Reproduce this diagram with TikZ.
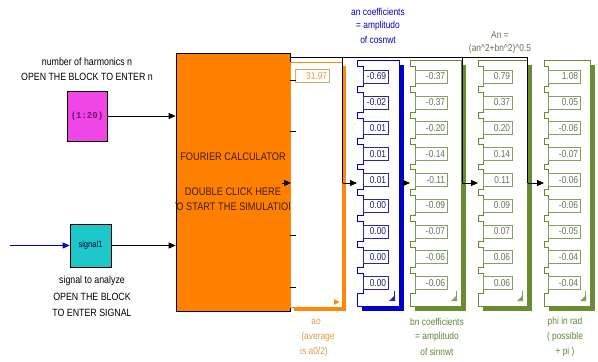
\documentclass[tikz,border=0pt]{standalone}
\usepackage{fontspec}
\setmainfont{Liberation Sans}[FakeStretch=0.84]
\newfontfamily\monof{Liberation Mono}
\usetikzlibrary{arrows.meta}
\definecolor{fcorange}{RGB}{255,128,0}
\definecolor{fctext}{RGB}{60,30,0}
\definecolor{aoorange}{RGB}{255,135,10}
\definecolor{aobox}{RGB}{225,165,105}
\definecolor{aotxt}{RGB}{235,150,70}
\definecolor{dblue}{RGB}{0,0,200}
\definecolor{bbox}{RGB}{40,40,160}
\definecolor{btxt}{RGB}{30,30,120}
\definecolor{dgreen}{RGB}{105,140,50}
\definecolor{gbox}{RGB}{130,160,95}
\definecolor{gtxt}{RGB}{100,115,90}
\definecolor{glabel}{RGB}{95,135,55}
\definecolor{magbox}{RGB}{240,70,230}
\definecolor{magtxt}{RGB}{110,20,110}
\definecolor{cyanbox}{RGB}{30,200,200}
\definecolor{sigblue}{RGB}{0,0,190}

% #1 name, #2 L, #3 box left, #4 box right, #5 R, #6 frame, #7 box colour, #8 text colour, #9 values
\newcommand\mdisp[9]{%
  \fill[#6] ({#2+5},65) rectangle ({#5+5},311);
  \filldraw[draw=#6, fill=white, line width=0.7pt] (#2,60) rectangle (#5,306);
  \foreach \v [count=\i from 0] in {#9}{%
    \pgfmathsetmacro\yc{76.5+25.8*\i}%
    \fill[white] ({#2-1},{\yc-10}) rectangle (#3,{\yc+10});
    \draw[#6, line width=0.7pt] (#2,{\yc-10}) -- (#3,{\yc-10}) -- (#3,{\yc+10}) -- (#2,{\yc+10});
    \node[valbox, draw=#7, minimum width={#4-#3}] (#1\i) at ({(#3+#4)/2},\yc) {};
    \node[valtxt, text=#8] (#1t\i) at ([xshift=-2pt]#1\i.east) {\v};
  }
  \draw[#7, line width=0.8pt] ({#5-5},291) -- ({#5-5},297);
  \fill[#7] ({#5-4},295) -- ({#5-10},301) -- ({#5-4},301) -- cycle;
}

\begin{document}
\begin{tikzpicture}[x=1pt,y=-1pt,
  lbl/.style={font=\fontsize{10.5}{12}\selectfont, inner sep=0pt},
  dlbl/.style={font=\fontsize{10}{12}\selectfont, inner sep=0pt},
  fctxt/.style={font=\fontsize{11}{13}\selectfont, inner sep=0pt, text=fctext},
  valtxt/.style={font=\fontsize{10}{11}\selectfont, inner sep=0pt, anchor=east},
  valbox/.style={rectangle, fill=white, line width=0.6pt, minimum height=13pt, inner sep=0pt},
  arr/.style={line width=0.8pt, -{Triangle[length=7pt,width=6pt]}},
  wire/.style={line width=0.8pt},
]
\useasboundingbox[fill=white] (0,0) rectangle (598,362);

% Fourier calculator block
\node[draw=black, fill=fcorange, minimum width=114, minimum height=258, inner sep=0pt, line width=0.7pt] (fc) at (233,182) {};
\node[fctxt] (fct1) at (233,157) {FOURIER CALCULATOR};
\node[fctxt] (fct2) at (233,192) {DOUBLE CLICK HERE};
\begin{scope}
  \clip (fc.south west) rectangle (fc.north east);
  \node[fctxt] (fct3) at (233,207) {TO START THE SIMULATION};
\end{scope}

% inputs
\node[draw=black, fill=magbox, minimum width=40, minimum height=50, inner sep=0pt, line width=0.7pt,
      font=\monof\bfseries\fontsize{9}{10}\selectfont, text=magtxt] (nh) at (87,116) {(1:20)};
\node[draw=black, fill=cyanbox, minimum width=41, minimum height=43, inner sep=0pt, line width=0.7pt,
      font=\fontsize{9}{10}\selectfont, text=black!70!blue] (sig) at (90.5,245.5) {signal1};
\node[lbl] (lab1) at (87,62) {number of harmonics n};
\node[lbl] (lab2) at (87,77) {OPEN THE BLOCK TO ENTER n};
\node[lbl] (lab3) at (92,281) {signal to analyze};
\node[lbl] (lab4) at (92,297) {OPEN THE BLOCK};
\node[lbl] (lab5) at (92,313) {TO ENTER SIGNAL};

\coordinate (src) at (10,245.5);
\draw[arr, sigblue] (src) -- (sig.west);
\draw[arr] (nh.east) -- (nh.east -| fc.west);
\draw[arr] (sig.east) -- (sig.east -| fc.west);

% ao display
\fill[aoorange] (294,66) rectangle (346,311);
\filldraw[draw=aoorange, fill=white, line width=0.7pt] (290,62) rectangle (342,307);
\node[valbox, draw=aobox, minimum width=34] (ao) at (312,76) {};
\node[valtxt, text=aotxt] (aot) at ([xshift=-2pt]ao.east) {31.97};
\fill[aoorange] (334,299) -- (339.5,302) -- (334,305) -- cycle;

% multi-value displays
\mdisp{bl}{357}{363}{388}{399}{dblue}{bbox}{btxt}{-0.69,-0.02,0.01,0.01,0.01,0.00,0.00,0.00,0.00}
\mdisp{bn}{410}{415}{447}{461}{dgreen}{gbox}{gtxt}{-0.37,-0.37,-0.20,-0.14,-0.11,-0.09,-0.07,-0.06,-0.06}
\mdisp{an}{478}{483}{512}{527}{dgreen}{gbox}{gtxt}{0.79,0.37,0.20,0.14,0.11,0.09,0.07,0.06,0.06}
\mdisp{ph}{544}{548}{580}{590}{dgreen}{gbox}{gtxt}{1.08,0.05,-0.06,-0.07,-0.06,-0.06,-0.05,-0.04,-0.04}

% output port stubs
\foreach \yy in {80,131,235,287} \draw[wire] (290,\yy) -- (296,\yy);

% routing
\coordinate (r0) at (290,57);
\coordinate (d1) at (342.5,57);
\coordinate (d2) at (462,57);
\coordinate (d3) at (527.5,57);
\coordinate (aoIn) at (291,183);
\coordinate (blIn) at (357,183);
\coordinate (bnIn) at (410,183);
\coordinate (anIn) at (478,183);
\coordinate (phIn) at (544,183);
\draw[wire] (r0) -- (d3) -- (d3 |- phIn);
\draw[wire] (d1) -- (d1 |- blIn);
\draw[wire] (d2) -- (d2 |- anIn);
\draw[arr] (282,183) -- (aoIn);
\draw[arr] (d1 |- blIn) -- (blIn);
\draw[arr] (401,183) -- (bnIn);
\draw[arr] (d2 |- anIn) -- (anIn);
\draw[arr] (d3 |- phIn) -- (phIn);

% display labels
\node[dlbl, text=dblue] (lb1) at (378,12) {an coefficients};
\node[dlbl, text=dblue] (lb2) at (378,26) {= amplitudo};
\node[dlbl, text=dblue] (lb3) at (378,40) {of cosnwt};
\node[dlbl, text=gtxt] (la1) at (500,35) {An =};
\node[dlbl, text=gtxt] (la2) at (500,49) {(an\textasciicircum 2+bn\textasciicircum 2)\textasciicircum 0.5};
\node[dlbl, text=aotxt] (lo1) at (316,322) {ao};
\node[dlbl, text=aotxt] (lo2) at (318,337) {(average};
\node[dlbl, text=aotxt] (lo3) at (314,352) {is a0/2)};
\node[dlbl, text=glabel] (lg1) at (437,322) {bn coefficients};
\node[dlbl, text=glabel] (lg2) at (437,337) {= amplitudo};
\node[dlbl, text=glabel] (lg3) at (437,352) {of sinnwt};
\node[dlbl, text=glabel] (lp1) at (565,322) {phi in rad};
\node[dlbl, text=glabel] (lp2) at (565,337) {( possible};
\node[dlbl, text=glabel] (lp3) at (565,352) {+ pi )};
\end{tikzpicture}
\end{document}
